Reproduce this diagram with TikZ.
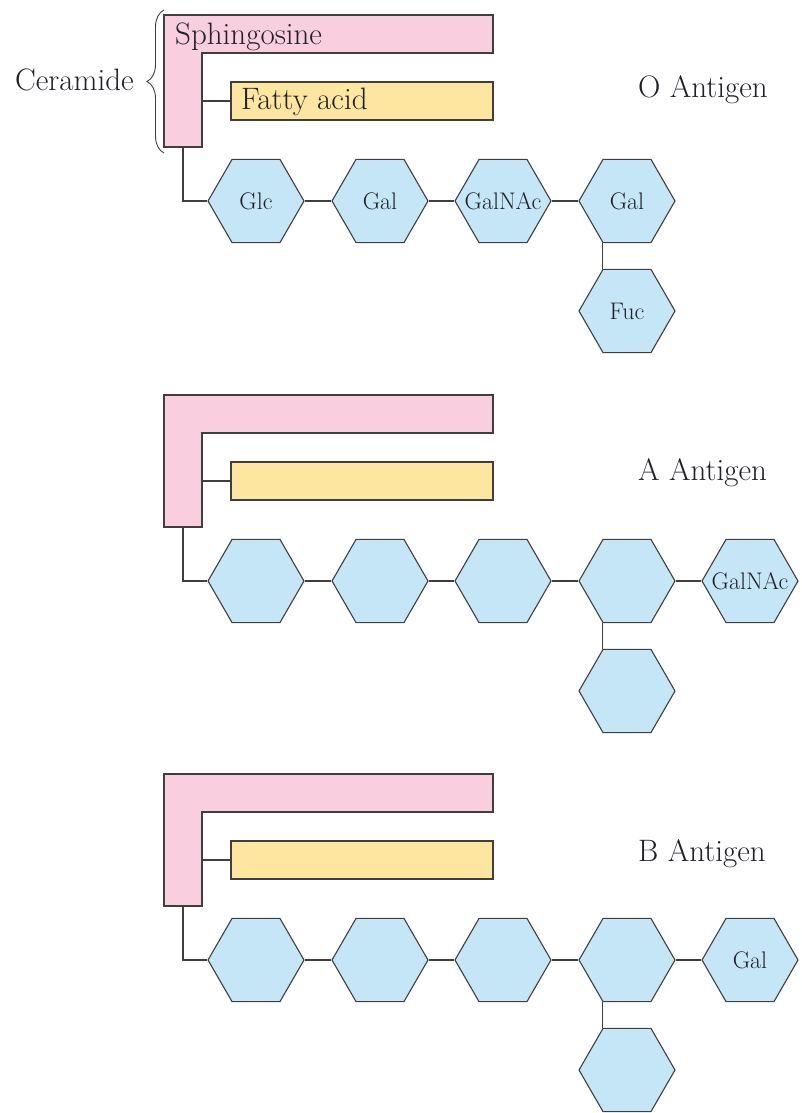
\documentclass[tikz,border=0pt]{standalone}
\usetikzlibrary{shapes.geometric,decorations.pathreplacing}
\definecolor{sphpink}{RGB}{249,207,224}
\definecolor{fatyellow}{RGB}{253,231,160}
\definecolor{sugarblue}{RGB}{196,230,247}
\definecolor{edgegray}{RGB}{66,62,62}
\definecolor{inkdark}{RGB}{35,31,40}
\tikzset{
  lipid/.style={draw=edgegray,line width=1.1pt},
  fatty/.style={rectangle,draw=edgegray,fill=fatyellow,line width=1.1pt,
    minimum width=262pt,minimum height=38pt,inner sep=0pt},
  sugar/.style={regular polygon,regular polygon sides=6,minimum size=96pt,
    inner sep=0pt,draw=edgegray,fill=sugarblue,line width=1.1pt},
  sugarname/.style={inner sep=0pt,text=inkdark,font=\fontsize{24}{27}\selectfont},
  bond/.style={draw=edgegray,line width=1.1pt},
  biglabel/.style={inner sep=0pt,text=inkdark,font=\fontsize{31}{35}\selectfont}
}
\newcommand\ceramide[2]{% name prefix, top edge
  \draw[lipid,fill=sphpink] (164,{-#2}) -- (493,{-#2}) -- (493,{-#2-38})
    -- (202,{-#2-38}) -- (202,{-#2-132}) -- (164,{-#2-132}) -- cycle;
  \node[fatty] (#1fat) at (362,{-#2-86}) {};
  \coordinate (#1sph) at (202,{-#2-86});
  \coordinate (#1foot) at (183,{-#2-132});
  \draw[bond] (#1sph) -- (#1fat);
}

\begin{document}
\begin{tikzpicture}[x=1pt,y=1pt]
  \useasboundingbox (0,0) rectangle (802,-1113);

  % O antigen
  \ceramide{o}{15}
  \node[biglabel,anchor=base west] (sphlabel) at (175,-45) {Sphingosine};
  \node[biglabel,anchor=base west] (fatlabel) at (241,-110) {Fatty acid};
  \node[biglabel,anchor=base east] (ceramlabel) at (134,-91) {Ceramide};
  \draw[decorate,decoration={brace,amplitude=17pt},draw=edgegray,line width=0.9pt]
    (164,-153) -- (164,-10);
  \node[biglabel,anchor=base west] (otitle) at (638,-98) {O Antigen};

  \node[sugar,label={[sugarname]center:Glc}] (oglc) at (256,-201) {};
  \node[sugar,label={[sugarname]center:Gal}] (ogal) at (380,-201) {};
  \node[sugar,label={[sugarname]center:GalNAc}] (ogalnac) at (503,-201) {};
  \node[sugar,label={[sugarname]center:Gal}] (ogalb) at (627,-201) {};
  \node[sugar,label={[sugarname]center:Fuc}] (ofuc) at (627,-311) {};
  \draw[bond] (ofoot) |- (oglc);
  \draw[bond] (oglc) -- (ogal) -- (ogalnac) -- (ogalb);
  \draw[bond] (ogalb.240) -- (ofuc.120);

  % A antigen
  \ceramide{a}{395}
  \node[biglabel,anchor=base west] (atitle) at (638,-480) {A Antigen};

  \node[sugar] (aglc) at (256,-581) {};
  \node[sugar] (agal) at (380,-581) {};
  \node[sugar] (agalnac) at (503,-581) {};
  \node[sugar] (agalb) at (627,-581) {};
  \node[sugar,label={[sugarname]center:GalNAc}] (aend) at (750,-581) {};
  \node[sugar] (afuc) at (627,-691) {};
  \draw[bond] (afoot) |- (aglc);
  \draw[bond] (aglc) -- (agal) -- (agalnac) -- (agalb) -- (aend);
  \draw[bond] (agalb.240) -- (afuc.120);

  % B antigen
  \ceramide{b}{774}
  \node[biglabel,anchor=base west] (btitle) at (638,-861) {B Antigen};

  \node[sugar] (bglc) at (256,-960) {};
  \node[sugar] (bgal) at (380,-960) {};
  \node[sugar] (bgalnac) at (503,-960) {};
  \node[sugar] (bgalb) at (627,-960) {};
  \node[sugar,label={[sugarname]center:Gal}] (bend) at (750,-960) {};
  \node[sugar] (bfuc) at (627,-1070) {};
  \draw[bond] (bfoot) |- (bglc);
  \draw[bond] (bglc) -- (bgal) -- (bgalnac) -- (bgalb) -- (bend);
  \draw[bond] (bgalb.240) -- (bfuc.120);
\end{tikzpicture}
\end{document}
